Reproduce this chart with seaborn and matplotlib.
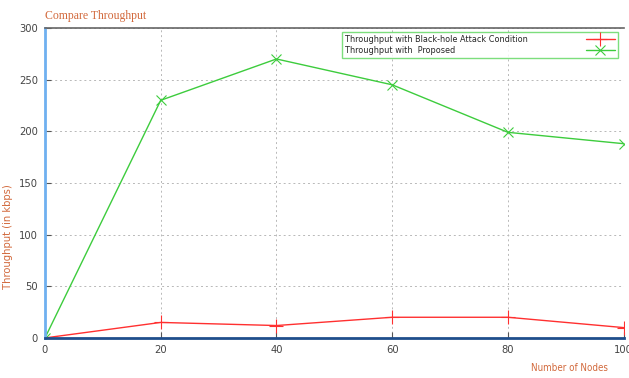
import matplotlib
matplotlib.use("Agg")
import matplotlib.pyplot as plt
import seaborn as sns

nodes = [0, 20, 40, 60, 80, 100]
blackhole = [0, 15, 12, 20, 20, 10]
proposed = [0, 230, 270, 245, 199, 188]
label_blackhole = "Throughput with Black-hole Attack Condition"
label_proposed = "Throughput with  Proposed"

sns.set_theme(style="white")
plt.rcParams['font.family'] = ['DejaVu Sans']
plt.rcParams['font.stretch'] = 'condensed'

fig = plt.figure(figsize=(6.29, 3.78), dpi=100)
ax = fig.add_axes([0.0715, 0.106, 0.920, 0.820])

sns.lineplot(x=nodes, y=blackhole, color="#ff3030", marker="+", markersize=10,
             markeredgewidth=0.8, markeredgecolor="#ff3030", linewidth=1.0,
             label=label_blackhole, ax=ax)
sns.lineplot(x=nodes, y=proposed, color="#3dcc3d", marker="x", markersize=6.5,
             markeredgewidth=0.8, markeredgecolor="#3dcc3d", linewidth=1.0,
             label=label_proposed, ax=ax)

ax.set_xlim(0, 100)
ax.set_ylim(0, 300)
ax.set_xticks(nodes)
ax.set_yticks([0, 50, 100, 150, 200, 250, 300])
ax.grid(True, color="#b8b8b8", linestyle=(0, (2, 3)), linewidth=0.7)
ax.tick_params(axis="both", labelsize=8, labelcolor="#444444", color="#555555",
               direction="in", length=4, width=0.8, pad=5, bottom=True, left=True)

ax.spines["right"].set_visible(False)
ax.spines["top"].set_color("#666666")
ax.spines["top"].set_linewidth(1.2)
ax.spines["left"].set_color("#6fb0f0")
ax.spines["left"].set_linewidth(2.0)
ax.spines["bottom"].set_color("#1f4e8c")
ax.spines["bottom"].set_linewidth(2.0)

ax.set_xlabel("")
ax.set_ylabel("Throughput (in kbps)", color="#d2693c", fontsize=8)
ax.yaxis.set_label_coords(-0.055, 0.326)
fig.text(0.906, 0.012, "Number of Nodes", color="#d2693c", fontsize=7, ha="center", va="bottom")
fig.text(0.0715, 0.942, "Compare Throughput", color="#d2693c", fontsize=8.5,
         family=["Liberation Serif", "DejaVu Serif"], ha="left", va="bottom")

leg = ax.legend(loc="upper right", bbox_to_anchor=(0.9896, 0.987), markerfirst=False,
                fontsize=6.5, frameon=True, fancybox=False, handlelength=3.2,
                borderpad=0.3, labelspacing=0.25, handletextpad=6.5, borderaxespad=0)
leg.get_frame().set_edgecolor("#5cd65c")
leg.get_frame().set_linewidth(1.0)

# left-align the legend labels while keeping the handles in one column on the right
fig.canvas.draw()
widths = [t.get_window_extent().width for t in leg.get_texts()]
items = leg._legend_handle_box.get_children()[0].get_children()
for item, w in zip(items, widths):
    item.sep += (max(widths) - w) * 72 / fig.dpi

fig.savefig("out.png", dpi=100)
